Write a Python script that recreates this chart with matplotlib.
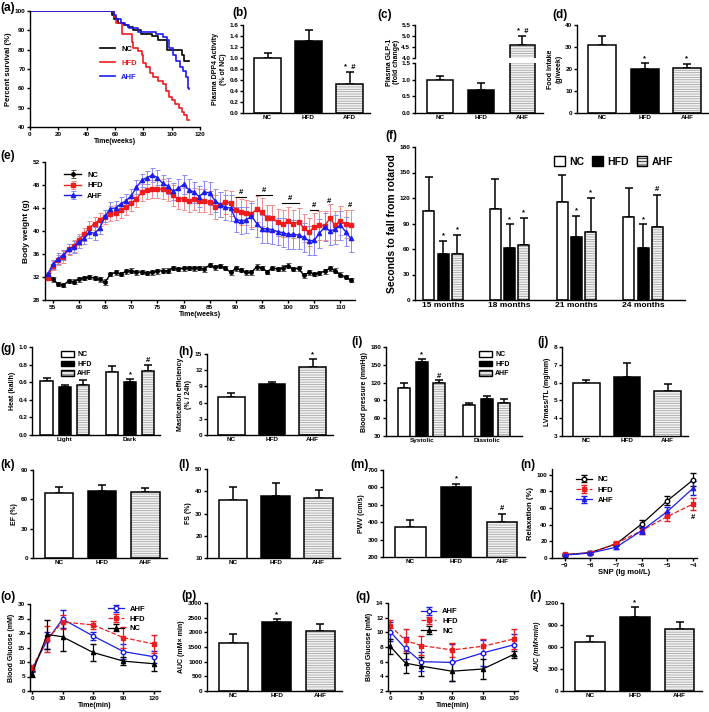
import numpy as np
import matplotlib
matplotlib.use('Agg')
import matplotlib.pyplot as plt
from matplotlib.patches import Patch
from matplotlib.ticker import FormatStrFormatter

plt.rcParams['font.family'] = ['Liberation Sans', 'DejaVu Sans']
plt.rcParams['font.weight'] = 'bold'
plt.rcParams['axes.labelweight'] = 'bold'
plt.rcParams['axes.linewidth'] = 1.0
plt.rcParams['xtick.major.size'] = 2.2
plt.rcParams['ytick.major.size'] = 2.2
plt.rcParams['xtick.major.width'] = 1.0
plt.rcParams['ytick.major.width'] = 1.0
plt.rcParams['xtick.labelsize'] = 4.6
plt.rcParams['ytick.labelsize'] = 4.6
plt.rcParams['axes.labelsize'] = 5
plt.rcParams['hatch.linewidth'] = 0.5
plt.rcParams['axes.labelpad'] = 2

# ---------------- data ----------------
groups = ['NC', 'HFD', 'AHF']

# (a) survival
surv_nc_t = [0, 58, 59, 62, 66, 69, 73, 78, 86, 90.5, 96.5, 107, 109, 112]
surv_nc_s = [100, 98, 96, 94, 93, 91.5, 90, 88, 87, 85, 80, 77, 74, 74]
surv_hfd_t = [0, 59, 61, 65, 72, 73, 76, 79, 80, 82, 85, 87, 90, 94, 96, 98, 100, 102, 105, 107, 109, 111, 112]
surv_hfd_s = [100, 97, 94, 88, 84, 81, 79.5, 77, 73, 71, 68, 66, 64, 62, 58.5, 55.5, 54, 52, 50, 48, 46, 43.5, 43.5]
surv_ahf_t = [0, 59, 61, 64, 67, 70, 76, 89, 94, 96.5, 98, 101, 103, 106, 108, 110, 111.5, 112]
surv_ahf_s = [100, 98, 96, 94, 92.5, 91, 89, 88, 86.5, 85, 81, 77, 74, 71, 69, 66, 60, 59.5]

# (b) DPP4
dpp4_names = ['NC', 'HFD', 'AFD']
dpp4 = [1.0, 1.31, 0.53]
dpp4_err = [0.09, 0.2, 0.21]

# (c) GLP-1
glp1 = [1.0, 0.7, 4.6]
glp1_err = [0.1, 0.2, 0.4]

# (d) food intake
food = [30.7, 19.8, 20.3]
food_err = [4.5, 2.7, 2.0]

# (e) body weight
weeks = list(range(54, 113))
bw_nc = [32.3, 31.6, 30.8, 30.6, 31.3, 31.2, 31.6, 31.8, 32.0, 31.8,
         31.6, 31.1, 32.5, 32.8, 32.5, 33.0, 33.1, 32.8, 32.9, 32.7,
         32.8, 33.0, 33.1, 33.1, 33.6, 33.4, 33.5, 33.6, 33.5, 33.6,
         33.4, 34.1, 33.7, 33.9, 33.6, 32.8, 33.5, 33.2, 32.8, 32.8,
         33.8, 33.6, 32.9, 33.6, 33.4, 33.6, 34.0, 33.4, 33.5, 32.3,
         32.8, 32.5, 32.7, 33.0, 33.5, 33.1, 32.4, 32.0, 31.5]
bw_hfd = [31.8, 34.0, 35.0, 35.5, 36.8, 37.4, 38.5, 39.4, 40.6, 41.3,
          42.0, 42.5, 43.0, 43.2, 43.6, 44.2, 44.8, 45.6, 46.7, 47.2,
          47.3, 47.3, 47.3, 47.0, 46.2, 45.6, 45.6, 45.2, 45.6, 45.3,
          45.3, 45.0, 44.2, 44.6, 45.1, 44.8, 43.7, 43.3, 43.2, 43.0,
          43.8, 43.3, 42.2, 42.3, 41.5, 41.3, 41.7, 41.2, 41.6, 40.5,
          39.8, 40.7, 41.0, 40.9, 42.2, 41.0, 41.8, 41.2, 41.0]
bw_ahf = [32.5, 34.2, 35.2, 35.8, 36.9, 37.2, 38.1, 38.7, 39.8, 39.6,
          40.5, 42.6, 43.9, 44.0, 44.7, 45.3, 46.1, 47.6, 48.8, 49.3,
          49.7, 49.3, 48.3, 47.8, 46.9, 47.4, 48.1, 47.2, 46.7, 46.0,
          46.8, 46.6, 45.3, 44.6, 44.1, 44.0, 42.0, 41.8, 41.9, 42.6,
          41.3, 40.4, 40.4, 40.2, 39.9, 39.7, 39.4, 39.4, 39.3, 38.9,
          38.3, 38.4, 39.6, 40.7, 40.0, 40.3, 41.0, 39.9, 38.7]
bw_nc_err = [0.4, 0.4, 0.3, 0.3, 0.4, 0.4, 0.4, 0.4, 0.4, 0.4,
             0.4, 0.5, 0.4, 0.4, 0.4, 0.4, 0.4, 0.4, 0.4, 0.4,
             0.4, 0.4, 0.4, 0.4, 0.4, 0.4, 0.4, 0.4, 0.4, 0.4,
             0.5, 0.4, 0.4, 0.4, 0.4, 0.4, 0.4, 0.4, 0.4, 0.4,
             0.5, 0.4, 0.4, 0.4, 0.4, 0.5, 0.4, 0.4, 0.4, 0.4,
             0.4, 0.4, 0.4, 0.4, 0.4, 0.4, 0.4, 0.4, 0.4]
bw_hfd_err = [0.4, 0.8, 0.9, 1.0, 1.0, 1.0, 1.0, 1.1, 1.1, 1.1,
              1.2, 1.2, 1.3, 1.3, 1.3, 1.4, 1.4, 1.5, 1.5, 1.6,
              1.6, 1.6, 1.7, 1.7, 1.8, 1.8, 1.9, 1.9, 1.9, 2.0,
              2.0, 2.0, 2.1, 2.1, 2.1, 2.2, 2.2, 2.2, 2.2, 2.3,
              2.3, 2.4, 2.3, 2.3, 2.3, 2.3, 2.4, 2.4, 2.4, 2.4,
              2.4, 2.4, 2.5, 2.5, 2.5, 2.5, 2.5, 2.5, 2.6]
bw_ahf_err = [0.4, 0.8, 0.9, 0.9, 0.9, 1.0, 1.0, 1.0, 1.0, 1.1,
              1.1, 1.1, 1.1, 1.2, 1.2, 1.2, 1.2, 1.2, 1.2, 1.2,
              1.2, 1.3, 1.4, 1.4, 1.5, 1.6, 1.7, 1.8, 1.8, 1.9,
              1.9, 2.0, 2.0, 2.1, 2.1, 2.2, 2.2, 2.3, 2.3, 2.3,
              2.4, 2.4, 2.4, 2.4, 2.4, 2.5, 2.5, 2.5, 2.5, 2.5,
              2.5, 2.5, 2.5, 2.5, 2.5, 2.5, 2.5, 2.5, 2.4]

# (f) rotarod
rot_months = ['15 months', '18 months', '21 months', '24 months']
rot_nc = [105, 107, 115, 98]
rot_hfd = [54, 61, 74, 61]
rot_ahf = [54, 65, 80, 86]
rot_nc_err = [40, 35, 32, 34]
rot_hfd_err = [16, 28, 25, 28]
rot_ahf_err = [23, 32, 40, 38]
rot_hfd_mark = ['*', '*', '*', '*']
rot_ahf_mark = ['*', '*', '*', '#']

# (g) heat
heat_cond = ['Light', 'Dark']
heat_nc = [0.61, 0.72]
heat_hfd = [0.55, 0.60]
heat_ahf = [0.57, 0.73]
heat_nc_err = [0.04, 0.06]
heat_hfd_err = [0.02, 0.04]
heat_ahf_err = [0.05, 0.07]

# (h) mastication
mast = [7.1, 9.5, 12.6]
mast_err = [0.6, 0.4, 1.4]

# (i) blood pressure
bp_cond = ['Systolic', 'Diastolic']
bp_nc = [111, 82]
bp_hfd = [155, 92]
bp_ahf = [120, 85]
bp_nc_err = [9, 4]
bp_hfd_err = [5, 6]
bp_ahf_err = [4, 7]

# (j) LV mass
lvm = [5.95, 6.3, 5.55]
lvm_err = [0.2, 0.8, 0.35]

# (k) EF, (l) FS, (m) PWV
ef = [66, 69, 67]
ef_err = [7, 6, 5]
fs = [36, 38, 37]
fs_err = [6, 5.5, 3.5]
pwv = [370, 600, 400]
pwv_err = [40, 20, 50]

# (n) relaxation
snp = [-9, -8, -7, -6, -5, -4]
rel_nc = [4, 6.5, 17, 41, 69, 94]
rel_hfd = [4.5, 6, 17.5, 33, 50, 65]
rel_ahf = [3.5, 6, 13, 33, 56, 84]
rel_nc_err = [1, 1.5, 2, 5, 5, 8]
rel_hfd_err = [1, 1.5, 2, 4, 5, 7]
rel_ahf_err = [1, 1.5, 2.5, 4, 5, 8]

# (o) OGTT
tt_min = [0, 15, 30, 60, 90, 120]
tt_ticks = [0, 30, 60, 90, 120]
og_ahf = [7.5, 17.5, 24.8, 19.0, 13.6, 11.8]
og_hfd = [8.0, 17.8, 23.8, 22.8, 18.4, 16.2]
og_nc = [6.0, 19.5, 18.7, 13.3, 10.3, 9.4]
og_ahf_err = [1.0, 3.0, 3.0, 1.5, 2.5, 2.0]
og_hfd_err = [1.0, 4.5, 2.5, 1.5, 3.5, 3.0]
og_nc_err = [1.0, 5.0, 5.0, 3.0, 1.5, 2.5]

# (p) OGTT AUC
og_auc = [1630, 2350, 2030]
og_auc_err = [320, 90, 250]

# (q) ITT
it_ahf = [10.1, 7.8, 6.0, 5.9, 7.2, 8.3]
it_hfd = [10.9, 8.9, 8.2, 7.6, 8.1, 9.1]
it_nc = [8.1, 5.8, 5.4, 4.7, 5.0, 7.0]
it_ahf_err = [1.3, 1.5, 1.3, 2.5, 1.8, 1.5]
it_hfd_err = [0.8, 1.5, 1.3, 0.9, 1.0, 1.4]
it_nc_err = [1.0, 1.4, 1.3, 1.3, 1.3, 0.5]

# (r) ITT AUC
it_auc = [675, 1005, 845]
it_auc_err = [70, 135, 90]

RED = '#ee1c1c'
BLUE = '#1c1cee'

# ---------------- helpers ----------------
W, H = 709, 712
fig = plt.figure(figsize=(W / 100, H / 100), dpi=100)


def box(l, t, r, b):
    ax = fig.add_axes([l / W, 1 - b / H, (r - l) / W, (b - t) / H])
    ax.spines['top'].set_visible(False)
    ax.spines['right'].set_visible(False)
    ax.tick_params(pad=1.2)
    return ax


def panel(x, y, s):
    fig.text(x / W, 1 - y / H, s, fontsize=8.5, fontweight='bold', va='center', ha='left')


def draw_bar(ax, x, h, e, kind, w):
    if kind == 'AHF':
        ax.bar(x, h, w, color='#f2f2f2', edgecolor='#9a9a9a', hatch='-------', linewidth=0, zorder=2)
        ax.bar(x, h, w, facecolor='none', edgecolor='black', linewidth=1.1, zorder=3)
    else:
        ax.bar(x, h, w, color='white' if kind == 'NC' else 'black',
               edgecolor='black', linewidth=1.1, zorder=2)
    ax.errorbar(x, h, yerr=[[0], [e]], fmt='none', ecolor='black',
                elinewidth=1.1, capsize=3, capthick=1.1, zorder=1)


def bar3(ax, vals, errs, ylim, yticks, ylabel, names=groups, marks=None):
    for i, kind in enumerate(groups):
        draw_bar(ax, i, vals[i], errs[i], kind, 0.66)
    ax.set_xlim(-0.6, 2.5)
    ax.set_ylim(ylim)
    ax.set_yticks(yticks)
    ax.set_xticks(range(3))
    ax.set_xticklabels(names)
    ax.tick_params(axis='x', length=0)
    ax.set_ylabel(ylabel)
    if marks:
        pad = 0.015 * (ylim[1] - ylim[0])
        for i, m in marks.items():
            ax.text(i, vals[i] + errs[i] + pad, m, ha='center', va='bottom', fontsize=5.5)


def grouped(ax, names, nc, hfd, ahf, nc_e, hfd_e, ahf_e, off, w, marks):
    for g in range(len(names)):
        for k, (v, e, kind) in enumerate([(nc[g], nc_e[g], 'NC'), (hfd[g], hfd_e[g], 'HFD'),
                                          (ahf[g], ahf_e[g], 'AHF')]):
            draw_bar(ax, g + (k - 1) * off, v, e, kind, w)
    ax.set_xticks(range(len(names)))
    ax.set_xticklabels(names)
    ax.tick_params(axis='x', length=0)
    for (g, k, y, m) in marks:
        ax.text(g + (k - 1) * off, y, m, ha='center', va='bottom', fontsize=5.5)


def bar_handles():
    return [Patch(facecolor='white', edgecolor='black', linewidth=1),
            Patch(facecolor='black', edgecolor='black', linewidth=1),
            Patch(facecolor='#e6e6e6', edgecolor='black', hatch='-----', linewidth=1)]


def curve(ax, x, y, e, color, marker, label, ls='-', open_marker=False):
    ax.errorbar(x, y, yerr=e, color=color, marker=marker, ms=3.2 if open_marker else 3,
                mfc='white' if open_marker else color, mew=1.0, lw=0.9, ls=ls,
                capsize=2, elinewidth=0.9, capthick=0.9, label=label)


# ---------------- (a) ----------------
ax = box(30, 11, 200, 127)
ax.step(surv_nc_t, surv_nc_s, where='post', color='black', lw=1.2, label='NC')
ax.step(surv_hfd_t, surv_hfd_s, where='post', color=RED, lw=1.2, label='HFD')
ax.step(surv_ahf_t, surv_ahf_s, where='post', color=BLUE, lw=1.2, label='AHF')
ax.set_xlim(0, 120)
ax.set_ylim(40, 100)
ax.set_xticks(range(0, 121, 20))
ax.set_yticks(range(40, 101, 10))
ax.set_xlabel('Time(weeks)', labelpad=1)
ax.set_ylabel('Percent survival (%)', fontsize=5.5)
leg = ax.legend(loc='center left', bbox_to_anchor=(0.37, 0.55), frameon=False, fontsize=5.5,
                handlelength=2.0, labelspacing=0.9)
for t, c in zip(leg.get_texts(), ['black', RED, BLUE]):
    t.set_color(c)
panel(0, 8, '(a)')

# ---------------- (b) ----------------
ax = box(243, 25, 370, 113)
bar3(ax, dpp4, dpp4_err, (0, 1.6), np.arange(0, 1.61, 0.2),
     'Plasma DPP4 Activity\n(% of NC)', names=dpp4_names, marks={2: '*  #'})
ax.yaxis.set_major_formatter(FormatStrFormatter('%.1f'))
panel(232, 13, '(b)')

# ---------------- (c) broken axis ----------------
axu = box(415, 25, 543, 58)
axl = box(415, 63, 543, 113)
for a in (axu, axl):
    for i, kind in enumerate(groups):
        draw_bar(a, i, glp1[i], glp1_err[i], kind, 0.62)
    a.set_xlim(-0.6, 2.5)
axu.set_ylim(4.0, 5.5)
axu.set_yticks([4.0, 4.5, 5.0, 5.5])
axu.spines['bottom'].set_visible(False)
axu.set_xticks([])
axu.yaxis.set_major_formatter(FormatStrFormatter('%.1f'))
axu.text(2, glp1[2] + glp1_err[2] + 0.03, '*  #', ha='center', va='bottom', fontsize=5.5)
axl.set_ylim(0, 1.5)
axl.set_yticks([0, 0.5, 1.0, 1.5])
axl.yaxis.set_major_formatter(FormatStrFormatter('%.1f'))
axl.set_xticks(range(3))
axl.set_xticklabels(groups)
axl.tick_params(axis='x', length=0)
fig.text(393 / W, 1 - 62 / H, 'Plasma GLP-1\n(fold change)', rotation=90, fontsize=5,
         ha='center', va='center', fontweight='bold', linespacing=1.1)
panel(377, 15, '(c)')

# ---------------- (d) ----------------
ax = box(577, 25, 708, 113)
bar3(ax, food, food_err, (0, 40), range(0, 41, 10), 'Food intake\n(g/week)',
     marks={1: '*', 2: '*'})
panel(552, 15, '(d)')

# ---------------- (e) ----------------
ax = box(45, 162, 355, 300)
for vals, errs, c, ec, mk, ms, lab in [
        (bw_nc, bw_nc_err, 'black', '#555555', 'o', 2.5, 'NC'),
        (bw_hfd, bw_hfd_err, RED, '#f28a8a', 's', 3, 'HFD'),
        (bw_ahf, bw_ahf_err, BLUE, '#8a8af2', '^', 3, 'AHF')]:
    ax.errorbar(weeks, vals, yerr=errs, color=c, ecolor=ec, marker=mk, ms=ms, lw=1.0,
                elinewidth=0.7, capsize=1.8, capthick=0.7, label=lab)
ax.set_xlim(53.5, 112.8)
ax.set_ylim(28, 52)
ax.set_xticks(range(55, 111, 5))
ax.set_yticks(range(28, 53, 4))
ax.set_xlabel('Time(weeks)', labelpad=1)
ax.set_ylabel('Body weight (g)', fontsize=6)
for x0, x1, y in [(90, 92, 45.9), (93.8, 97, 46.3), (98.8, 102, 44.8), (104.2, 105.8, 43.7)]:
    ax.plot([x0, x1], [y, y], color='black', lw=0.8)
    ax.text((x0 + x1) / 2, y + 0.2, '#', ha='center', va='bottom', fontsize=5.5)
ax.text(107.9, 44.6, '#', ha='center', va='bottom', fontsize=5.5)
ax.text(111.8, 43.9, '#', ha='center', va='bottom', fontsize=5.5)
ax.legend(loc='upper left', bbox_to_anchor=(0.04, 0.98), frameon=False, fontsize=5.5,
          handlelength=2.2, labelspacing=0.4)
panel(0, 156, '(e)')

# ---------------- (f) ----------------
ax = box(415, 147, 685, 300)
marks_f = []
for g in range(4):
    marks_f.append((g, 1, rot_hfd[g] + rot_hfd_err[g] + 1.5, rot_hfd_mark[g]))
    marks_f.append((g, 2, rot_ahf[g] + rot_ahf_err[g] + 1.5, rot_ahf_mark[g]))
grouped(ax, rot_months, rot_nc, rot_hfd, rot_ahf, rot_nc_err, rot_hfd_err, rot_ahf_err,
        0.213, 0.165, marks_f)
ax.set_xlim(-0.42, 3.63)
ax.set_ylim(0, 180)
ax.set_yticks(range(0, 181, 30))
ax.tick_params(axis='x', labelsize=6)
ax.set_ylabel('Seconds to fall from rotarod', fontsize=7.5)
ax.legend(bar_handles(), groups, loc='upper left', bbox_to_anchor=(545 / W, 1 - 147 / H),
          bbox_transform=fig.transFigure, ncol=3, frameon=False, fontsize=7.5,
          handlelength=1.0, handleheight=1.0, columnspacing=0.8, handletextpad=0.4)
panel(385, 136, '(f)')

# ---------------- (g) ----------------
ax = box(32, 347, 160, 435)
grouped(ax, heat_cond, heat_nc, heat_hfd, heat_ahf, heat_nc_err, heat_hfd_err, heat_ahf_err,
        0.28, 0.19, [(1, 1, 0.65, '*'), (1, 2, 0.81, '#')])
ax.set_xlim(-0.505, 1.46)
ax.set_ylim(0, 1.0)
ax.set_yticks(np.arange(0, 1.01, 0.2))
ax.yaxis.set_major_formatter(FormatStrFormatter('%.1f'))
ax.set_ylabel('Heat (kal/h)')
ax.legend(bar_handles(), groups, loc='upper left', bbox_to_anchor=(55 / W, 1 - 345 / H),
          bbox_transform=fig.transFigure, frameon=False, fontsize=5,
          handlelength=1.8, handleheight=0.8, labelspacing=0.35, handletextpad=0.5)
panel(0, 349, '(g)')

# ---------------- (h) ----------------
ax = box(207, 354, 333, 435)
bar3(ax, mast, mast_err, (0, 15), range(0, 16, 3), 'Mastication efficiency\n(% / 24h)',
     marks={2: '*'})
panel(178, 352, '(h)')

# ---------------- (i) ----------------
ax = box(386, 347, 522, 436)
grouped(ax, bp_cond, bp_nc, bp_hfd, bp_ahf, bp_nc_err, bp_hfd_err, bp_ahf_err,
        0.27, 0.185, [(0, 1, 161, '*'), (0, 2, 125, '#')])
ax.set_xlim(-0.55, 1.54)
ax.set_ylim(30, 180)
ax.set_yticks(range(30, 181, 30))
ax.set_ylabel('Blood pressure (mmHg)')
ax.legend(bar_handles(), groups, loc='upper left', bbox_to_anchor=(473 / W, 1 - 345 / H),
          bbox_transform=fig.transFigure, frameon=False, fontsize=5,
          handlelength=1.8, handleheight=0.8, labelspacing=0.35, handletextpad=0.5)
panel(351, 342, '(i)')

# ---------------- (j) ----------------
ax = box(562, 347, 688, 436)
bar3(ax, lvm, lvm_err, (3, 8), range(3, 9), 'LVmass/TL (mg/mm)')
panel(537, 342, '(j)')

# ---------------- (k) ----------------
ax = box(33, 470, 167, 558)
bar3(ax, ef, ef_err, (0, 90), range(0, 91, 30), 'EF (%)')
panel(0, 465, '(k)')

# ---------------- (l) ----------------
ax = box(207, 469, 340, 558)
bar3(ax, fs, fs_err, (10, 50), range(10, 51, 10), 'FS (%)')
panel(178, 465, '(l)')

# ---------------- (m) ----------------
ax = box(383, 470, 525, 557)
bar3(ax, pwv, pwv_err, (200, 700), range(200, 701, 100), 'PWV (cm/s)',
     marks={1: '*', 2: '#'})
panel(350, 465, '(m)')

# ---------------- (n) ----------------
ax = box(552, 469, 697, 558)
curve(ax, snp, rel_nc, rel_nc_err, 'black', 'o', 'NC', open_marker=True)
curve(ax, snp, rel_hfd, rel_hfd_err, RED, 's', 'HFD', ls='--')
curve(ax, snp, rel_ahf, rel_ahf_err, BLUE, '^', 'AHF')
ax.set_xlim(-9.5, -3.85)
ax.set_ylim(0, 107)
ax.set_xticks(snp)
ax.set_yticks(range(0, 101, 20))
ax.set_xlabel('SNP (lg mol/L)', labelpad=1, fontsize=5.5)
ax.set_ylabel('Relaxation (%)', fontsize=5.5)
ax.text(-4, 45, '#', ha='center', va='bottom', fontsize=5.5)
ax.legend(loc='upper left', bbox_to_anchor=(0.12, 1.0), frameon=False, fontsize=5.5,
          handlelength=2.0, labelspacing=0.4)
panel(520, 465, '(n)')

# ---------------- (o) ----------------
ax = box(30, 604, 160, 691)
curve(ax, tt_min, og_ahf, og_ahf_err, BLUE, 'o', 'AHF', open_marker=True)
curve(ax, tt_min, og_hfd, og_hfd_err, RED, 's', 'HFD', ls='--')
curve(ax, tt_min, og_nc, og_nc_err, 'black', '^', 'NC')
ax.set_xlim(-2, 126)
ax.set_ylim(0, 30)
ax.set_xticks(tt_ticks)
ax.set_yticks(range(0, 31, 5))
ax.set_xlabel('Time(min)', labelpad=1)
ax.set_ylabel('Blood Glucose (mM)')
ax.legend(loc='upper left', bbox_to_anchor=(0.55, 1.06), frameon=False, fontsize=5.5,
          handlelength=2.0, labelspacing=0.3)
panel(0, 597, '(o)')

# ---------------- (p) ----------------
ax = box(207, 603, 342, 691)
bar3(ax, og_auc, og_auc_err, (0, 3000), range(0, 3001, 500), 'AUC (mM\u00d7 min)',
     marks={1: '*'})
panel(181, 596, '(p)')

# ---------------- (q) ----------------
ax = box(388, 603, 518, 691)
curve(ax, tt_min, it_ahf, it_ahf_err, BLUE, 'o', 'AHF', open_marker=True)
curve(ax, tt_min, it_hfd, it_hfd_err, RED, 's', 'HFD', ls='--')
curve(ax, tt_min, it_nc, it_nc_err, 'black', '^', 'NC')
ax.set_xlim(-2, 124)
ax.set_ylim(2, 14)
ax.set_xticks(tt_ticks)
ax.set_yticks(range(2, 15, 2))
ax.set_xlabel('Time(min)', labelpad=1)
ax.set_ylabel('Blood Glucose (mM)')
ax.legend(loc='upper left', bbox_to_anchor=(0.2, 1.02), frameon=False, fontsize=5.5,
          handlelength=2.0, labelspacing=0.3)
panel(355, 597, '(q)')

# ---------------- (r) ----------------
ax = box(563, 603, 702, 691)
bar3(ax, it_auc, it_auc_err, (0, 1200), range(0, 1201, 300), 'AUC (mM\u00d7min)',
     marks={1: '*'})
ax.yaxis.label.set_style('italic')
panel(529, 596, '(r)')

fig.savefig('out.png', dpi=100)
